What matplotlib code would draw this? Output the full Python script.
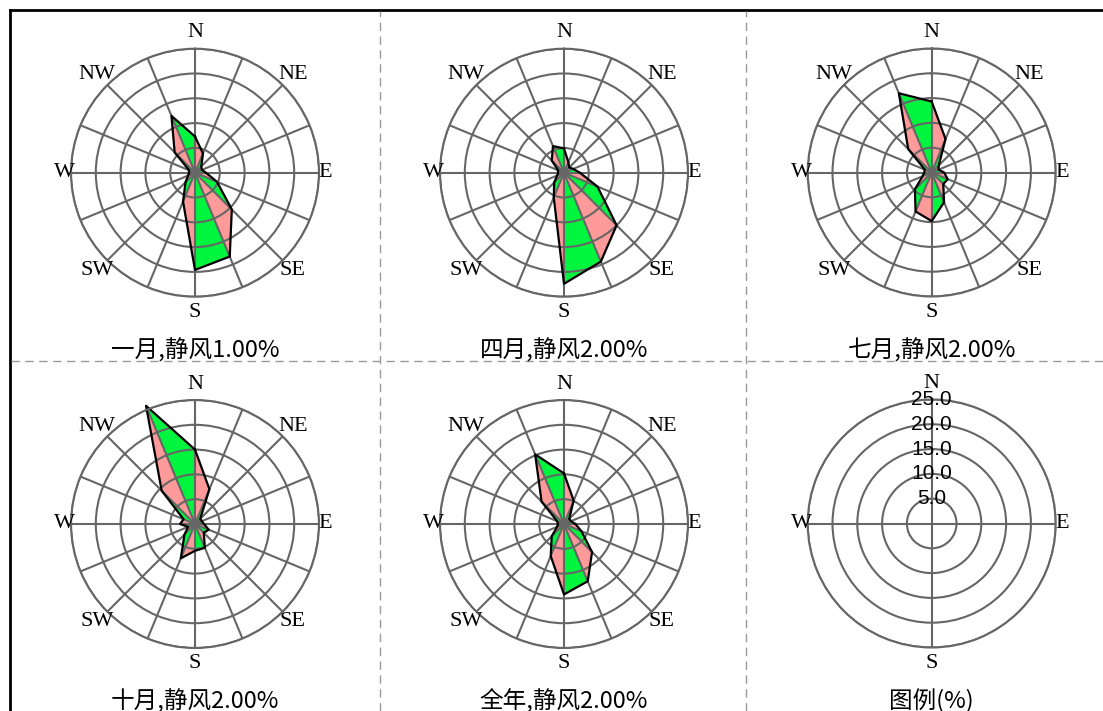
import numpy as np
import matplotlib.pyplot as plt
from matplotlib.lines import Line2D

# 16 compass points, clockwise from N (frequency in %)
directions = ['N', 'NNE', 'NE', 'ENE', 'E', 'ESE', 'SE', 'SSE',
              'S', 'SSW', 'SW', 'WSW', 'W', 'WNW', 'NW', 'NNW']
jan = [7.3, 4.2, 1.8, 1.5, 2.2, 4.8, 10.5, 18.3, 19.6, 6.3, 2.7, 1.5, 1.2, 1.3, 5.8, 12.4]
apr = [4.9, 2.3, 1.5, 2.0, 3.2, 7.3, 15.0, 19.4, 22.4, 5.4, 2.8, 1.5, 1.2, 1.3, 3.5, 5.8]
jul = [14.3, 7.3, 2.0, 1.5, 2.5, 3.5, 3.3, 6.5, 9.8, 8.5, 4.8, 2.0, 1.5, 1.5, 6.7, 17.3]
octo = [15.0, 7.6, 1.5, 1.5, 1.8, 3.0, 2.5, 5.2, 5.4, 7.5, 3.0, 1.5, 3.0, 2.5, 9.5, 25.8]
year = [10.2, 5.1, 1.5, 1.5, 2.3, 3.8, 8.0, 12.5, 14.2, 7.0, 3.5, 1.5, 1.2, 1.5, 6.4, 15.2]

titles = ['一月,静风1.00%', '四月,静风2.00%', '七月,静风2.00%',
          '十月,静风2.00%', '全年,静风2.00%', '图例(%)']
ring_values = [5, 10, 15, 20, 25]
ring_labels = ['5.0', '10.0', '15.0', '20.0', '25.0']
compass_labels = ['N', 'NE', 'E', 'SE', 'S', 'SW', 'W', 'NW']
legend_labels = ['N', 'E', 'S', 'W']

W, H = 1103, 711
R = 124  # pixel radius of the 25% ring
GREEN = '#00f53f'
PINK = '#ff9a9a'
GRID = '#666666'
CJK = ['Noto Sans CJK SC', 'DejaVu Sans']

fig = plt.figure(figsize=(W / 100, H / 100), dpi=100)

centers = [(195, 172.7), (564, 172.7), (931.7, 172.5),
           (195, 524), (564, 524), (931.7, 523.5)]
title_y = [350, 350, 350, 701, 701, 701]


def make_ax(cx, cy, nspokes):
    ax = fig.add_axes([(cx - R) / W, 1 - (cy + R) / H, 2 * R / W, 2 * R / H],
                      projection='polar')
    ax.set_theta_zero_location('N')
    ax.set_theta_direction(-1)
    ax.set_ylim(0, 25)
    ax.set_yticks(ring_values)
    ax.set_yticklabels([])
    ax.set_xticks(np.deg2rad(np.arange(nspokes) * 360 / nspokes))
    ax.set_xticklabels([])
    ax.tick_params(length=0)
    ax.grid(True, color=GRID, linewidth=1.5)
    ax.spines['polar'].set_color(GRID)
    ax.spines['polar'].set_linewidth(1.5)
    ax.set_facecolor('none')
    return ax


def label_radius(k):
    return 28.2 if k % 2 == 0 and (k // 2) % 2 == 0 else (26.3 if k % 2 == 0 else 27.9)


theta = np.deg2rad(np.arange(16) * 22.5)
for n, vals in enumerate([jan, apr, jul, octo, year]):
    cx, cy = centers[n]
    ax = make_ax(cx, cy, 16)
    r = np.array(vals)
    for i in range(16):
        j = (i + 1) % 16
        ax.fill([0, theta[i], theta[j]], [0, r[i], r[j]],
                color=GREEN if i % 2 else PINK, linewidth=0, zorder=1, clip_on=False)
    ax.plot(np.append(theta, theta[0]), np.append(r, r[0]),
            color='black', linewidth=1.6, zorder=2, clip_on=False)
    for k, lab in enumerate(compass_labels):
        rr = 28.2 if k % 4 == 0 else (26.3 if k % 4 == 2 else 27.9)
        ax.text(np.deg2rad(k * 45), rr, lab, ha='center', va='center',
                fontsize=16, family='Liberation Serif', clip_on=False)
    fig.text(cx / W, 1 - title_y[n] / H, titles[n], ha='center', va='center',
             fontsize=17, family=CJK)

# legend rose
cx, cy = centers[5]
ax = make_ax(cx, cy, 4)
for k, lab in enumerate(legend_labels):
    rr = 28.2 if k % 2 == 0 else 26.3
    ax.text(np.deg2rad(k * 90), rr, lab, ha='center', va='center',
            fontsize=16, family='Liberation Serif', clip_on=False)
for v, lab in zip(ring_values, ring_labels):
    ax.text(0, v, lab, ha='center', va='center', fontsize=15,
            family='Liberation Sans', zorder=5)
fig.text(cx / W, 1 - title_y[5] / H, titles[5], ha='center', va='center',
         fontsize=17, family=CJK)

# frame and cell separators
fig.add_artist(Line2D([10 / W, 10 / W], [0, 1 - 10 / H], color='black', linewidth=2))
fig.add_artist(Line2D([10 / W, 1], [1 - 10 / H, 1 - 10 / H], color='black', linewidth=2))
for x in [380, 746]:
    fig.add_artist(Line2D([x / W, x / W], [0, 1 - 11 / H], color='#9a9a9a',
                          linewidth=1, dashes=(6, 4)))
fig.add_artist(Line2D([11 / W, 1], [1 - 361 / H, 1 - 361 / H], color='#9a9a9a',
                      linewidth=1, dashes=(6, 4)))

fig.savefig('out.png', dpi=100)
